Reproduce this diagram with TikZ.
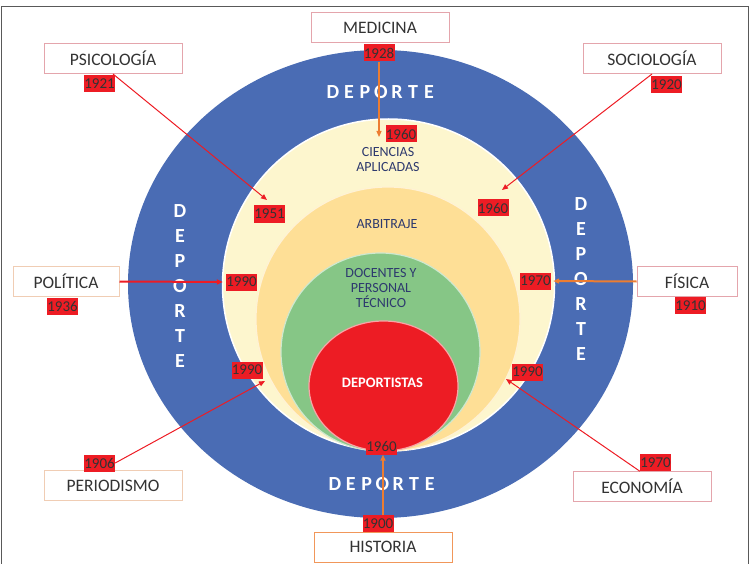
\documentclass[tikz,border=0pt]{standalone}
\usepackage{fontspec}
\setmainfont{Carlito}
\usepackage{tikz}
\usetikzlibrary{arrows.meta}

\definecolor{ringblue}{RGB}{74,108,180}
\definecolor{cream}{RGB}{253,246,206}
\definecolor{apricot}{RGB}{254,223,150}
\definecolor{sage}{RGB}{134,198,134}
\definecolor{yearred}{RGB}{237,28,36}
\definecolor{navy}{RGB}{46,58,110}
\definecolor{boxpink}{RGB}{228,165,172}
\definecolor{boxtan}{RGB}{240,205,180}
\definecolor{linkorange}{RGB}{237,125,49}

\tikzset{
  field/.style={draw=boxpink, line width=1pt, fill=white, minimum width=138pt,
    minimum height=30pt, inner sep=0pt, text=black!80, font=\fontsize{17.5}{20}\selectfont},
  year/.style={fill=yearred, minimum width=31pt, minimum height=17pt, inner sep=0pt,
    text=black!80, font=\fontsize{15}{16}\selectfont},
  ringletter/.style={text=white, font=\fontsize{20}{22}\selectfont\bfseries},
  area/.style={text=navy, align=center, font=\fontsize{14}{15}\selectfont},
  redlink/.style={-{Triangle[length=6pt,width=5pt]}, yearred, line width=1pt},
  orangelink/.style={-{Triangle[length=6pt,width=5pt]}, linkorange, line width=1.2pt},
}

\begin{document}
\begin{tikzpicture}[x=1pt, y=-1pt]
  \useasboundingbox (0,0) rectangle (752,564);

  % Frame
  \draw[black!65, line width=0.8pt] (1,564) -- (1,6) -- (748,6) -- (748,564);

  % Rings
  \fill[ringblue] (380.5,284) ellipse [x radius=252.5, y radius=234];
  \filldraw[fill=cream, draw=white, line width=1.5pt] (388.5,285) circle [radius=166];
  \filldraw[fill=apricot, draw=white!60!apricot, line width=1.2pt] (388,319) circle [radius=132];
  \filldraw[fill=sage, draw=white!60!sage, line width=1.2pt] (380.5,352) ellipse [x radius=99.5, y radius=99];
  \filldraw[fill=yearred, draw=white!60!yearred, line width=1.2pt] (383.5,386) ellipse [x radius=74.5, y radius=65];

  % DEPORTE around the ring
  \foreach \ch [count=\i from 0] in {D,E,P,O,R,T,E} {
    \node[ringletter] (top\i) at (333+16*\i, 92.5) {\ch};
    \node[ringletter] (bottom\i) at (335+15.8*\i, 484.5) {\ch};
    \node[ringletter] (left\i) at (180, 211+25*\i) {\ch};
    \node[ringletter] (right\i) at (581, 204+25*\i) {\ch};
  }

  % Inner areas
  \node[area] (ciencias) at (388,159.5) {CIENCIAS\\APLICADAS};
  \node[area] (arbitraje) at (387,224) {ARBITRAJE};
  \node[area] (docentes) at (381,288) {DOCENTES Y\\PERSONAL\\TÉCNICO};
  \node[text=white, font=\fontsize{14.5}{16}\selectfont\bfseries] (deportistas) at (382.5,383) {DEPORTISTAS};

  % Disciplines
  \node[field] (medicina) at (380,28) {MEDICINA};
  \node[field] (psicologia) at (113,58.5) {PSICOLOGÍA};
  \node[field] (sociologia) at (652,58.5) {SOCIOLOGÍA};
  \node[field, draw=boxtan, minimum width=106pt] (politica) at (66,281.5) {POLÍTICA};
  \node[field, minimum width=100pt] (fisica) at (687,281.5) {FÍSICA};
  \node[field, draw=boxtan] (periodismo) at (113,485.5) {PERIODISMO};
  \node[field] (economia) at (642,486) {ECONOMÍA};
  \node[field, draw=linkorange!80] (historia) at (383,547) {HISTORIA};

  % Years
  \node[year] (y1928) at (379,53) {1928};
  \node[year] (y1921) at (99.5,83.5) {1921};
  \node[year] (y1920) at (666.5,84.5) {1920};
  \node[year] (y1936) at (62.5,306) {1936};
  \node[year] (y1910) at (690.5,305.5) {1910};
  \node[year] (y1906) at (99.5,463) {1906};
  \node[year] (y1970b) at (655.5,462.5) {1970};
  \node[year] (y1900) at (378,523.5) {1900};
  \node[year] (y1960a) at (401,134) {1960};
  \node[year] (y1951) at (269.5,214) {1951};
  \node[year] (y1960b) at (493,208) {1960};
  \node[year] (y1990a) at (241.5,282) {1990};
  \node[year] (y1970a) at (535.5,281) {1970};
  \node[year] (y1990b) at (247,370) {1990};
  \node[year] (y1990c) at (527.5,372) {1990};
  \node[year] (y1960c) at (381.5,446) {1960};

  % Arrow tips
  \coordinate (tipmed) at (379,137);
  \coordinate (tippsi) at (267,200);
  \coordinate (tipsoc) at (502,190);
  \coordinate (tipper) at (265,381);
  \coordinate (tipeco) at (506,379);

  % Links
  \draw[orangelink] (y1928.south) -- (tipmed);
  \draw[redlink] (psicologia.south) -- (tippsi);
  \draw[redlink] (sociologia.south) -- (tipsoc);
  \draw[redlink, line width=2pt, shorten >=3pt] (politica.east) -- (y1990a.west);
  \draw[orangelink, line width=2pt, shorten >=2pt] (fisica.west) -- (y1970a.east);
  \draw[redlink] (y1906.east) -- (tipper);
  \draw[redlink] (y1970b.south west) -- (tipeco);
  \draw[orangelink, line width=2pt] (historia.north |- y1900.north) -- (historia.north |- y1960c.south);
\end{tikzpicture}
\end{document}
